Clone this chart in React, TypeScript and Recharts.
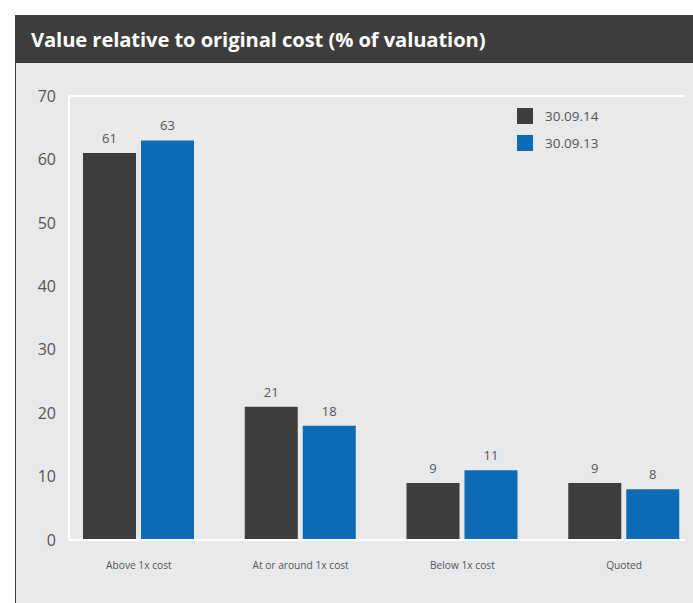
import React from "react";
import { BarChart, Bar, XAxis, YAxis, CartesianGrid, LabelList } from "recharts";

const categories = ["Above 1x cost", "At or around 1x cost", "Below 1x cost", "Quoted"];
const values2014 = [61, 21, 9, 9];
const values2013 = [63, 18, 11, 8];
const yTicks = [0, 10, 20, 30, 40, 50, 60, 70];
const seriesNames = ["30.09.14", "30.09.13"];
const title = "Value relative to original cost (% of valuation)";

const DARK = "#3d3d3d";
const BLUE = "#0c6bb4";
const BG = "#e8e9eb";
const TEXT = "#555555";
const FONT = "'Open Sans', 'Noto Sans', sans-serif";

const data = categories.map((c, i) => ({ name: c, s14: values2014[i], s13: values2013[i] }));

const LegendBox = () => (
  <div style={{ position: "absolute", left: 501, top: 87, fontFamily: FONT }}>
    {[DARK, BLUE].map((col, i) => (
      <div key={i} style={{ display: "flex", alignItems: "center", height: 27 }}>
        <div style={{ width: 16, height: 16, background: col, marginRight: 12 }} />
        <span style={{ fontSize: 13.5, color: TEXT }}>{seriesNames[i]}</span>
      </div>
    ))}
  </div>
);

export default function App() {
  return (
    <div style={{ position: "absolute", left: 15, top: 15, width: 678, height: 588, background: BG, borderLeft: `1.5px solid ${DARK}`, boxSizing: "border-box", overflow: "hidden" }}>
      <div style={{ height: 48, background: DARK, color: "#fff", fontFamily: FONT, fontWeight: 700, fontSize: 20.2, lineHeight: "48px", paddingLeft: 15, letterSpacing: -0.1 }}>
        {title}
      </div>
      <BarChart
        width={677}
        height={540}
        data={data}
        margin={{ top: 33, right: 8, left: 0, bottom: 33 }}
        barSize={53}
        barGap={5}
      >
        <CartesianGrid vertical={false} stroke="#ffffff" strokeWidth={2} />
        <XAxis
          dataKey="name"
          height={30}
          axisLine={{ stroke: "#ffffff", strokeWidth: 2 }}
          tickLine={false}
          tickSize={0}
          tickMargin={22}
          padding={{ left: -11, right: -20 }}
          tick={{ fill: TEXT, fontSize: 10.2, fontFamily: FONT }}
          interval={0}
        />
        <YAxis
          yAxisId="left"
          width={53}
          domain={[0, 70]}
          ticks={yTicks}
          axisLine={{ stroke: "#ffffff", strokeWidth: 2 }}
          tickLine={false}
          tickSize={0}
          tickMargin={13}
          tick={{ fill: TEXT, fontSize: 16, fontFamily: FONT }}
        />
        <YAxis
          yAxisId="right"
          orientation="right"
          width={0}
          domain={[0, 70]}
          axisLine={{ stroke: "#ffffff", strokeWidth: 2 }}
          tick={false}
          tickLine={false}
        />
        <Bar yAxisId="left" dataKey="s14" name={seriesNames[0]} fill={DARK} isAnimationActive={false}>
          <LabelList dataKey="s14" position="top" offset={10} fill={TEXT} fontSize={13} fontFamily={FONT} />
        </Bar>
        <Bar yAxisId="left" dataKey="s13" name={seriesNames[1]} fill={BLUE} isAnimationActive={false}>
          <LabelList dataKey="s13" position="top" offset={10} fill={TEXT} fontSize={13} fontFamily={FONT} />
        </Bar>
      </BarChart>
      <LegendBox />
    </div>
  );
}
